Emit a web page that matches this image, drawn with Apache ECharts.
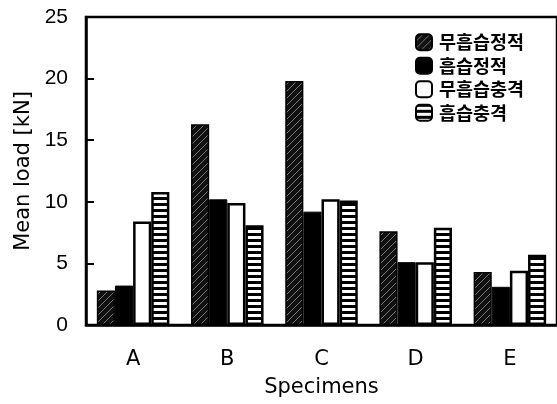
<!DOCTYPE html>
<html><head><meta charset="utf-8">
<script src="https://cdn.jsdelivr.net/npm/echarts@6/dist/echarts.min.js"></script>
<style>html,body{margin:0;padding:0;background:#fff}#c{width:557px;height:404px}</style>
</head><body><div id="c"></div>
<script>
const categories = ['A','B','C','D','E'];
const seriesNames = ['무흡습정적','흡습정적','무흡습충격','흡습충격'];
const dryStatic = [2.8, 16.3, 19.8, 7.6, 4.3];
const wetStatic = [3.2, 10.2, 9.2, 5.1, 3.1];
const dryImpact = [8.4, 9.9, 10.2, 5.1, 4.4];
const wetImpact = [10.8, 8.1, 10.1, 7.9, 5.7];
const yTicks = [0, 5, 10, 15, 20, 25];

function hatch(){
  const c=document.createElement('canvas');c.width=7;c.height=7;
  const g=c.getContext('2d');g.fillStyle='#111';g.fillRect(0,0,7,7);
  g.strokeStyle='#777';g.lineWidth=1;
  g.beginPath();g.moveTo(0,7);g.lineTo(7,0);g.stroke();
  return c;
}
function stripes(){
  const c=document.createElement('canvas');c.width=6;c.height=6;
  const g=c.getContext('2d');g.fillStyle='#000';g.fillRect(0,0,6,6);
  g.fillStyle='#fff';g.fillRect(0,2,6,3);
  return c;
}
const hatchPat={image:hatch(),repeat:'repeat'};
const stripePat={image:stripes(),repeat:'repeat'};

const styles=[
  {color:hatchPat,borderColor:'#000',borderWidth:1.5},
  {color:'#000',borderColor:'#000',borderWidth:1},
  {color:'#fff',borderColor:'#000',borderWidth:2.5},
  {color:stripePat,borderColor:'#000',borderWidth:2.5}
];
const datas=[dryStatic,wetStatic,dryImpact,wetImpact];
const chart=echarts.init(document.getElementById('c'));
const numFont='Liberation Sans, Arial, sans-serif';
const nameFont='DejaVu Sans, sans-serif';
chart.setOption({
  animation:false,
  textStyle:{fontFamily:numFont},
  grid:{left:86,top:17,right:-4,bottom:79,show:true,borderColor:'#000',borderWidth:2.5,containLabel:false},
  legend:{
    orient:'vertical',left:410,top:28,itemWidth:16,itemHeight:16,itemGap:5,
    data:seriesNames,
    textStyle:{fontSize:18.5,fontWeight:'bold',color:'#000',fontFamily:'Noto Sans CJK KR',padding:[0,0,0,2]}
  },
  xAxis:{
    type:'category',data:categories,
    name:'Specimens',nameLocation:'middle',nameGap:52,
    nameTextStyle:{fontSize:21,color:'#000',fontFamily:nameFont},
    axisLine:{lineStyle:{color:'#000',width:2.5}},
    axisTick:{inside:true,length:7,lineStyle:{color:'#000',width:2}},
    axisLabel:{fontSize:21,color:'#000',margin:24,fontFamily:nameFont}
  },
  yAxis:{
    type:'value',min:yTicks[0],max:yTicks[yTicks.length-1],interval:5,
    name:'Mean load [kN]',nameLocation:'middle',nameGap:52,
    nameTextStyle:{fontSize:21,color:'#000',fontFamily:nameFont},
    axisLine:{show:true,lineStyle:{color:'#000',width:2.5}},
    axisTick:{show:true,inside:true,length:8,lineStyle:{color:'#000',width:2}},
    axisLabel:{fontSize:21,color:'#000',margin:18},
    splitLine:{show:false}
  },
  series:seriesNames.map((n,i)=>({
    name:n,type:'bar',data:datas[i],barGap:'0%',barCategoryGap:'23%',
    itemStyle:styles[i]
  }))
});
</script></body></html>
